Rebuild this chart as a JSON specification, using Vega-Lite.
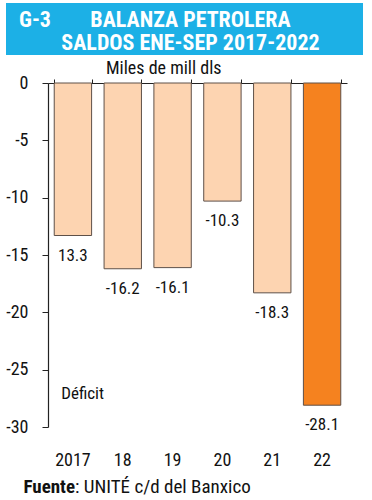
{
  "$schema": "https://vega.github.io/schema/vega-lite/v6.json",
  "padding": {"left": 5, "top": 3, "right": 0, "bottom": 0},
  "background": "white",
  "spacing": 5,
  "config": {
    "view": {"stroke": null},
    "font": "Roboto Condensed, Liberation Sans Narrow, Roboto, sans-serif",
    "text": {"font": "Roboto Condensed, Liberation Sans Narrow, Roboto, sans-serif"}
  },
  "vconcat": [
    {
      "width": 357,
      "height": 52,
      "view": {"fill": "#1CB0E6", "stroke": null},
      "data": {"values": [{"code": "G-3", "l1": "BALANZA PETROLERA", "l2": "SALDOS ENE-SEP 2017-2022"}]},
      "layer": [
        {
          "mark": {"type": "text", "align": "left", "baseline": "middle", "dx": -165.5, "dy": -9, "fontSize": 22, "fontWeight": "bold", "color": "white"},
          "encoding": {"text": {"field": "code", "type": "nominal"}}
        },
        {
          "mark": {"type": "text", "align": "center", "baseline": "middle", "dx": 6, "dy": -9, "fontSize": 22, "fontWeight": "bold", "color": "white"},
          "encoding": {"text": {"field": "l1", "type": "nominal"}}
        },
        {
          "mark": {"type": "text", "align": "center", "baseline": "middle", "dx": 6, "dy": 14, "fontSize": 22, "fontWeight": "bold", "color": "white"},
          "encoding": {"text": {"field": "l2", "type": "nominal"}}
        }
      ]
    },
    {
      "width": 341,
      "height": 344,
      "title": {"text": "Miles de mill dls", "anchor": "start", "frame": "group", "dx": 100, "fontSize": 18, "fontWeight": "normal", "color": "#111", "offset": -4},
      "data": {
        "values": [
          {"year": "2017", "value": -13.3, "label": "13.3"},
          {"year": "18", "value": -16.2, "label": "-16.2"},
          {"year": "19", "value": -16.1, "label": "-16.1"},
          {"year": "20", "value": -10.3, "label": "-10.3"},
          {"year": "21", "value": -18.3, "label": "-18.3"},
          {"year": "22", "value": -28.1, "label": "-28.1"}
        ]
      },
      "layer": [
        {
          "mark": {"type": "bar", "stroke": "#5e5048", "strokeWidth": 1},
          "encoding": {
            "x": {
              "field": "year", "type": "ordinal", "sort": null,
              "scale": {"range": [42, 341], "paddingInner": 0.25, "paddingOuter": 0.125},
              "axis": {"orient": "top", "labels": false, "title": null, "tickBand": "extent", "tickSize": 4, "domainColor": "#222", "tickColor": "#222", "domainWidth": 1.2}
            },
            "y": {
              "field": "value", "type": "quantitative",
              "scale": {"domain": [-30, 0], "nice": false},
              "axis": {"title": null, "grid": false, "offset": -42, "values": [0, -5, -10, -15, -20, -25, -30], "labelExpr": "datum.value + ''", "tickSize": 6, "labelPadding": 14, "labelFontSize": 18, "labelColor": "#111", "domainColor": "#222", "tickColor": "#222", "domainWidth": 1.2}
            },
            "color": {"condition": {"test": "datum.year === '22'", "value": "#F5821F"}, "value": "#FDD4B1"}
          }
        },
        {
          "mark": {"type": "text", "baseline": "middle", "dy": 20, "fontSize": 17, "color": "#111"},
          "encoding": {
            "x": {
              "field": "year", "type": "ordinal", "sort": null,
              "axis": {"orient": "bottom", "domain": false, "ticks": false, "tickSize": 0, "labelPadding": 24, "labelAngle": 0, "labelFontSize": 18, "labelColor": "#111", "title": null}
            },
            "y": {"field": "value", "type": "quantitative"},
            "text": {"field": "label", "type": "nominal"}
          }
        },
        {
          "data": {"values": [{"note": "Déficit", "year": "2017", "value": -27.1}]},
          "mark": {"type": "text", "align": "left", "baseline": "middle", "dx": 7, "fontSize": 17, "color": "#111"},
          "encoding": {
            "x": {"field": "year", "type": "ordinal", "sort": null, "bandPosition": 0, "axis": null},
            "y": {"field": "value", "type": "quantitative"},
            "text": {"field": "note", "type": "nominal"}
          }
        }
      ],
      "resolve": {"axis": {"x": "independent"}}
    },
    {
      "width": 357,
      "height": 24,
      "data": {"values": [{"a": "Fuente", "b": ": UNITÉ c/d del Banxico"}]},
      "layer": [
        {
          "mark": {"type": "text", "align": "right", "baseline": "alphabetic", "dx": -109.5, "dy": 7, "fontSize": 19, "fontWeight": "bold", "color": "#111"},
          "encoding": {"text": {"field": "a", "type": "nominal"}}
        },
        {
          "mark": {"type": "text", "align": "left", "baseline": "alphabetic", "dx": -109.5, "dy": 7, "fontSize": 19, "color": "#111"},
          "encoding": {"text": {"field": "b", "type": "nominal"}}
        }
      ]
    }
  ]
}
